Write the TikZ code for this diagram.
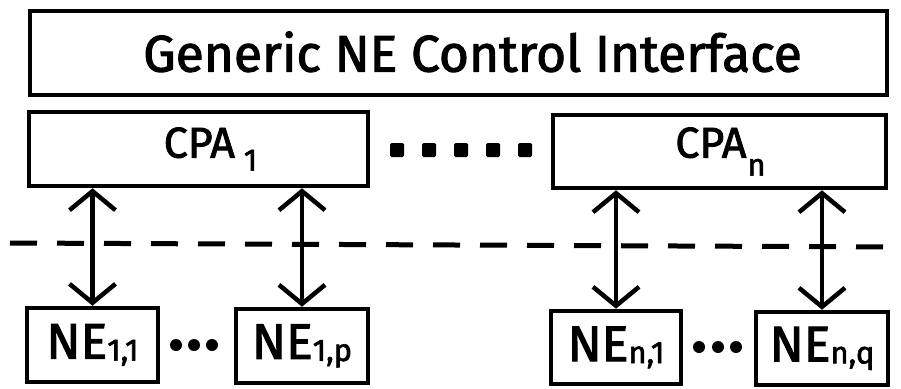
\documentclass[tikz,border=0pt]{standalone}
\usepackage{fontspec}
\setmainfont{Fira Sans}[FakeBold=2]
\usetikzlibrary{arrows.meta}
\newcommand{\lowsub}[3]{\hspace{#1}\raisebox{#2}{\fontsize{31}{31}\selectfont #3}}
\tikzset{
  x=1pt, y=-1pt,
  box/.style={draw, line width=4.5pt, inner sep=0pt, fill=white},
  titlefont/.style={font=\fontsize{51.5}{52}\selectfont},
  cpafont/.style={font=\fontsize{43}{44}\selectfont},
  nefont/.style={font=\fontsize{50}{52}\selectfont},
  arr/.style={line width=4.5pt, {Straight Barb[length=19pt,width=46pt]}-{Straight Barb[length=19pt,width=46pt]}},
  sq/.style={fill, minimum size=14pt, inner sep=0pt, rounded corners=1.5pt},
  dot/.style={circle, fill, minimum size=12pt, inner sep=0pt},
  sep/.style={line width=5pt, dash pattern=on 27pt off 20pt},
}
\begin{document}
\begin{tikzpicture}
\useasboundingbox[fill=white] (0,0) rectangle (901,388);
% separator
\coordinate (sepL) at (10,243);
\coordinate (sepR) at (901,247);
\draw[sep] (sepL) -- (sepR);
% top box
\node[box, titlefont, minimum width=857pt, minimum height=84pt] (top) at (458.5,53) {\hspace*{28pt}\raisebox{3pt}{Generic NE Control Interface}};
% CPA boxes
\node[box, cpafont, minimum width=339pt, minimum height=74pt] (cpa1) at (198.5,149) {\hspace*{24pt}CPA\lowsub{9pt}{-13pt}{1}};
\node[box, cpafont, minimum width=333pt, minimum height=73pt] (cpan) at (719.5,151.5) {\hspace*{2pt}CPA\lowsub{1pt}{-18pt}{n}};
% squares between CPAs
\node[sq] (s1) at (397,150) {};
\node[sq] (s2) at (429,150) {};
\node[sq] (s3) at (461,150) {};
\node[sq] (s4) at (493,150) {};
\node[sq] (s5) at (525,150) {};
% NE boxes
\node[box, nefont, minimum width=131pt, minimum height=74pt] (ne11) at (92.5,345) {NE\lowsub{0pt}{-2pt}{1,1}};
\node[box, nefont, minimum width=132pt, minimum height=74pt] (ne1p) at (302,346) {NE\lowsub{0pt}{-2pt}{1,p}};
\node[box, nefont, minimum width=130pt, minimum height=73pt] (nen1) at (616,347.5) {NE\lowsub{0pt}{-2pt}{n,1}};
\node[box, nefont, minimum width=132pt, minimum height=73pt] (nenq) at (822,348.5) {NE\lowsub{0pt}{-2pt}{n,q}};
% dots between NEs
\node[dot] (a1) at (176,345) {};
\node[dot] (a2) at (194,345) {};
\node[dot] (a3) at (212,345) {};
\node[dot] (b1) at (699,347) {};
\node[dot] (b2) at (718,347) {};
\node[dot] (b3) at (736,347) {};
% arrows
\draw[arr] (ne11.north |- cpa1.south) -- (ne11.north);
\draw[arr] (ne1p.north |- cpa1.south) -- (ne1p.north);
\draw[arr] (nen1.north |- cpan.south) -- (nen1.north);
\draw[arr] (nenq.north |- cpan.south) -- (nenq.north);
\end{tikzpicture}
\end{document}
